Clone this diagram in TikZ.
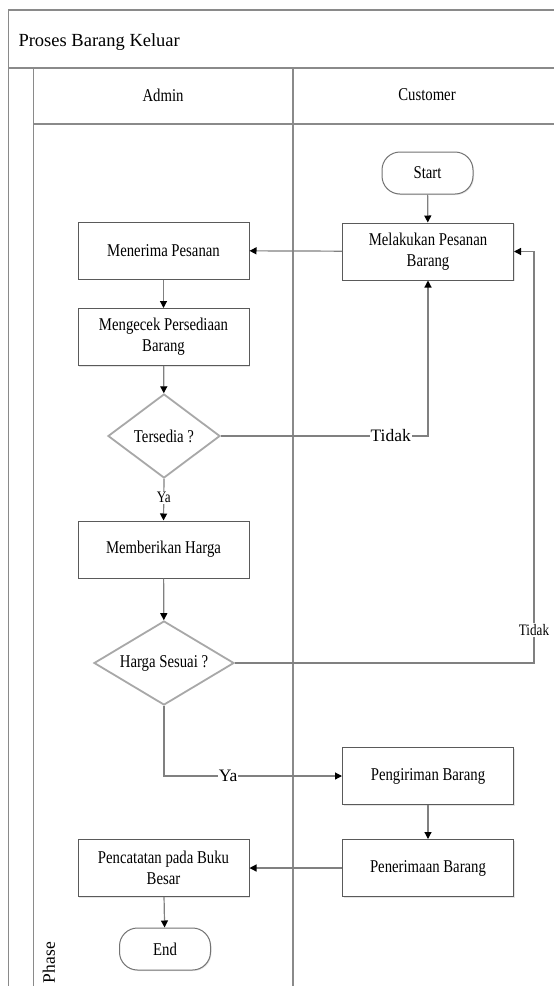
\documentclass[tikz,border=0pt]{standalone}
\usepackage{fontspec}
\setmainfont{Liberation Serif}
\newfontfamily\narrowserif[FakeStretch=0.82]{Liberation Serif}
\usetikzlibrary{arrows.meta,shapes.geometric,shadows}

\definecolor{framegray}{HTML}{8A8A8A}
\definecolor{boxgray}{HTML}{5A5A5A}
\definecolor{diagray}{HTML}{A8A8A8}
\definecolor{linegray}{HTML}{808080}

\tikzset{
  frame/.style={draw=framegray, line width=1.4pt},
  nodefont/.style={font=\narrowserif\fontsize{18}{21}\selectfont},
  softshadow/.style={drop shadow={shadow xshift=1pt, shadow yshift=-1pt, opacity=0.2, fill=black!50}},
  process/.style={nodefont, draw=boxgray, line width=1pt, fill=white,
    minimum width=171pt, minimum height=57pt, align=center, inner sep=2pt, softshadow},
  terminal/.style={nodefont, draw=boxgray!85, line width=1pt, fill=white,
    rounded corners=18pt, minimum width=91pt, minimum height=42pt, softshadow},
  decision/.style={nodefont, shape=diamond, draw=diagray, line width=1.8pt,
    fill=white, inner sep=0pt},
  conn/.style={draw=linegray, line width=1.2pt,
    -{Triangle[length=7pt,width=7pt,color=black]}},
  lblwide/.style={fill=white, inner sep=1pt, font=\fontsize{17.5}{20}\selectfont},
  lblnarrow/.style={fill=white, inner sep=1pt, font=\narrowserif\fontsize{16}{19}\selectfont},
  headfont/.style={font=\narrowserif\fontsize{18}{21}\selectfont},
}

\begin{document}
\begin{tikzpicture}[x=1pt, y=-1pt]
  \useasboundingbox (0,0) rectangle (554,986);
  \fill[white] (0,0) rectangle (554,986);

  % pool frame, title band and lane headers
  \draw[frame] (8.5,986) -- (8.5,10) -- (556,10);
  \draw[frame] (8.5,68) -- (556,68);
  \draw[frame] (33.5,68) -- (33.5,986);
  \draw[frame] (293,68) -- (293,986);
  \draw[frame] (33.5,124) -- (556,124);

  \node[anchor=base west, font=\fontsize{18.5}{22}\selectfont] (title) at (15,46) {Proses Barang Keluar};
  \node[headfont] (hadmin) at (163,95) {Admin};
  \node[headfont] (hcust) at (427,95) {Customer};
  \node[rotate=90, anchor=east, inner sep=0pt, font=\fontsize{17.5}{20}\selectfont] (phase) at (49,942) {Phase};

  % Customer lane
  \node[terminal] (start) at (427.5,173) {Start};
  \node[process] (mel) at (428,251.5) {Melakukan Pesanan\\Barang};
  \node[process] (peng) at (428,776) {Pengiriman Barang};
  \node[process] (pener) at (428,868) {Penerimaan Barang};

  % Admin lane
  \node[process] (men) at (163.5,250.5) {Menerima Pesanan};
  \node[process] (cek) at (163.5,337) {Mengecek Persediaan\\Barang};
  \node[decision, minimum width=112pt, minimum height=84pt] (ters) at (164,436) {\makebox[0pt]{Tersedia ?}};
  \node[process] (mem) at (163.5,549.5) {Memberikan Harga};
  \node[decision, minimum width=140pt, minimum height=84pt] (harga) at (164,663) {\makebox[0pt]{Harga Sesuai ?}};
  \node[process] (catat) at (163.5,868) {Pencatatan pada Buku\\Besar};
  \node[terminal] (end) at (165,949) {End};

  \coordinate (loopR) at (534,251.5);

  % flow
  \draw[conn] (start) -- (mel);
  \draw[conn] (mel) -- (men);
  \draw[conn] (men) -- (cek);
  \draw[conn] (cek) -- (ters);
  \draw[conn] (ters.east) -- node[lblwide, pos=0.82] {Tidak} (ters.east -| mel.south) -- (mel.south);
  \draw[conn] (ters.south) -- node[lblnarrow, pos=0.44] {Ya} (mem.north);
  \draw[conn] (mem) -- (harga);
  \draw[conn] (harga.east) -| node[lblnarrow, pos=0.54] {Tidak} (loopR) -- (mel.east);
  \draw[conn] (harga.south) |- node[lblwide, pos=0.68] {Ya} (peng.west);
  \draw[conn] (peng) -- (pener);
  \draw[conn] (pener) -- (catat);
  \draw[conn] (catat) -- (end);
\end{tikzpicture}
\end{document}
